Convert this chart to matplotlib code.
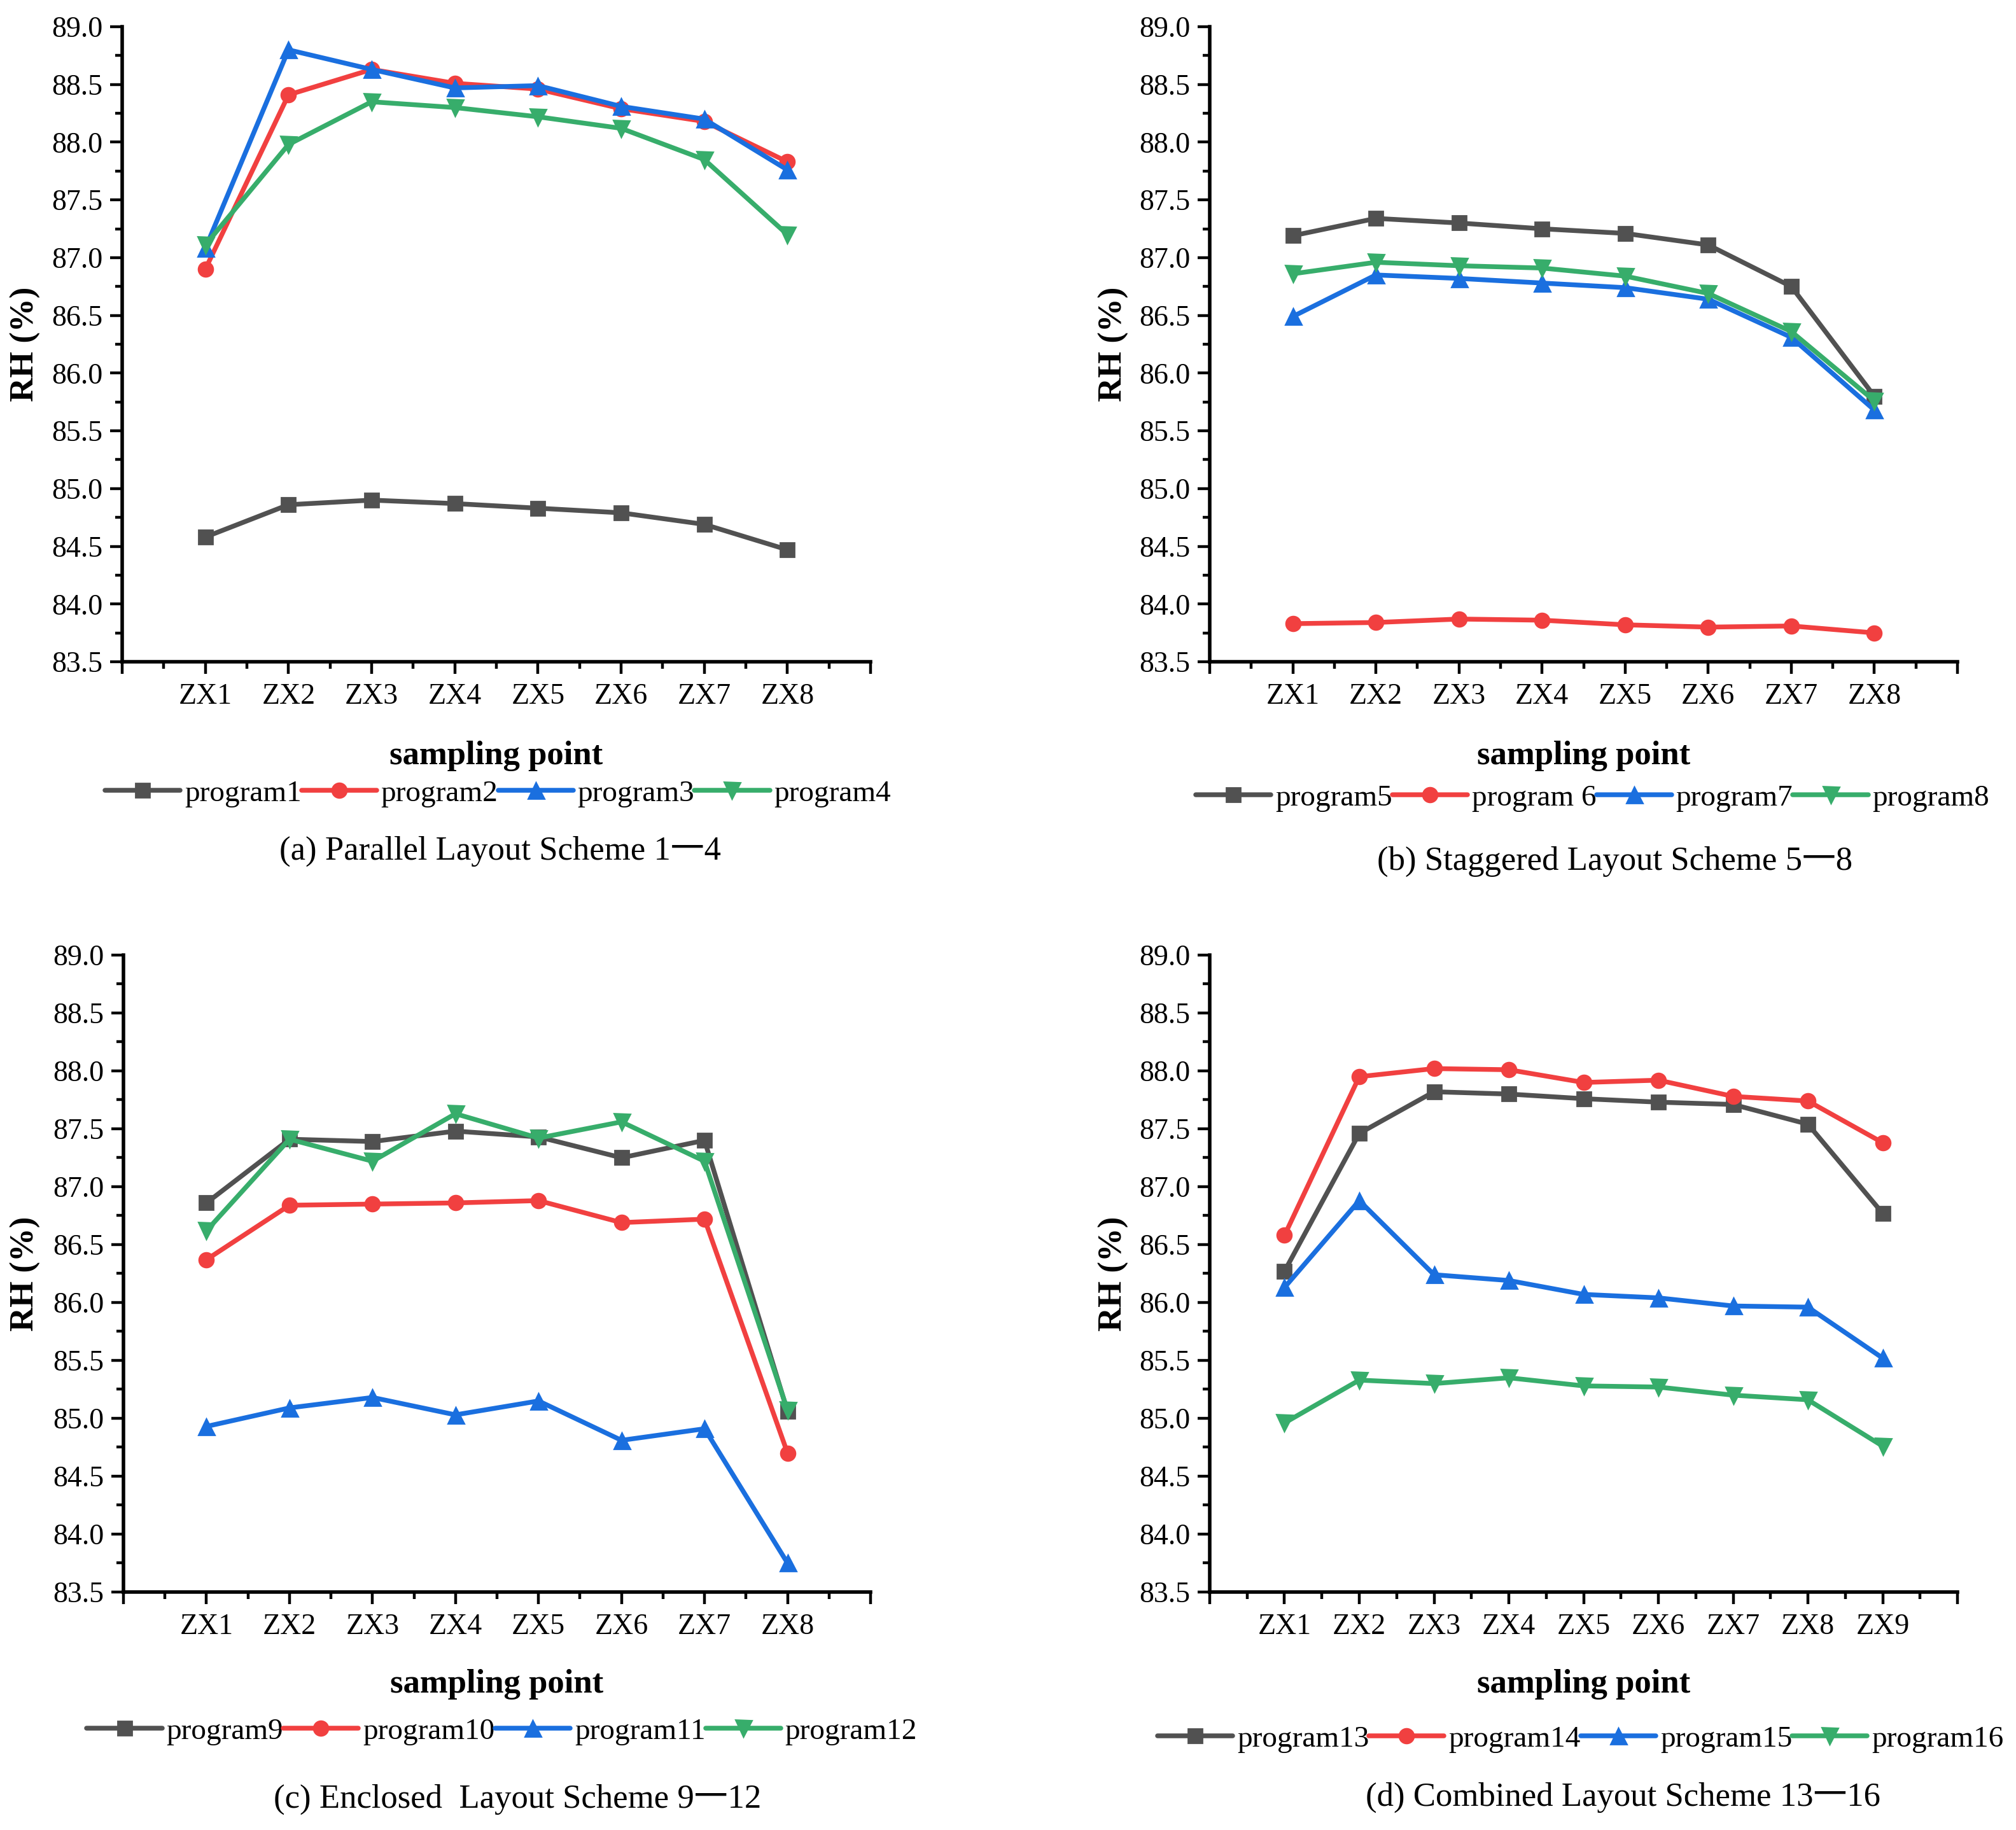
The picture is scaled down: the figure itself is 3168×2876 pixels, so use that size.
import matplotlib
matplotlib.use("Agg")
import matplotlib.pyplot as plt
from matplotlib.ticker import MultipleLocator, FixedLocator

plt.rcParams['font.family'] = ['Liberation Serif', 'Noto Sans CJK SC', 'DejaVu Serif']

# ---------------- data ----------------
labels_8 = ['ZX1', 'ZX2', 'ZX3', 'ZX4', 'ZX5', 'ZX6', 'ZX7', 'ZX8']
labels_9 = ['ZX1', 'ZX2', 'ZX3', 'ZX4', 'ZX5', 'ZX6', 'ZX7', 'ZX8', 'ZX9']

# (a) Parallel layout
program1 = [84.58, 84.86, 84.90, 84.87, 84.83, 84.79, 84.69, 84.47]
program2 = [86.90, 88.41, 88.63, 88.51, 88.46, 88.29, 88.18, 87.83]
program3 = [87.08, 88.80, 88.63, 88.47, 88.49, 88.31, 88.20, 87.76]
program4 = [87.11, 87.98, 88.35, 88.30, 88.22, 88.12, 87.85, 87.20]

# (b) Staggered layout
program5 = [87.19, 87.34, 87.30, 87.25, 87.21, 87.11, 86.75, 85.80]
program6 = [83.83, 83.84, 83.87, 83.86, 83.82, 83.80, 83.81, 83.75]
program7 = [86.49, 86.85, 86.82, 86.78, 86.74, 86.64, 86.31, 85.68]
program8 = [86.86, 86.96, 86.93, 86.91, 86.84, 86.69, 86.36, 85.76]

# (c) Enclosed layout
program9 = [86.86, 87.41, 87.39, 87.48, 87.43, 87.25, 87.40, 85.06]
program10 = [86.37, 86.84, 86.85, 86.86, 86.88, 86.69, 86.72, 84.70]
program11 = [84.93, 85.09, 85.18, 85.03, 85.15, 84.81, 84.91, 83.75]
program12 = [86.62, 87.41, 87.22, 87.63, 87.42, 87.56, 87.22, 85.07]

# (d) Combined layout
program13 = [86.27, 87.46, 87.82, 87.80, 87.76, 87.73, 87.71, 87.54, 86.77]
program14 = [86.58, 87.95, 88.02, 88.01, 87.90, 87.92, 87.78, 87.74, 87.38]
program15 = [86.13, 86.88, 86.24, 86.19, 86.07, 86.04, 85.97, 85.96, 85.52]
program16 = [84.96, 85.33, 85.30, 85.35, 85.28, 85.27, 85.20, 85.16, 84.76]

colors = ['#515151', '#F14040', '#1A6FDF', '#37AD6B']
markers = ['s', 'o', '^', 'v']
msizes = [7.6, 8.2, 9.0, 9.0]

W, H = 3168, 2876
DPI = 200
fig = plt.figure(figsize=(W / DPI, H / DPI), dpi=DPI)


def px(x0, y0, x1, y1):
    return [x0 / W, 1 - y1 / H, (x1 - x0) / W, (y1 - y0) / H]


panels = [
    dict(rect=px(192, 42, 1368, 1040), labels=labels_8,
         series=[program1, program2, program3, program4],
         names=['program1', 'program2', 'program3', 'program4'],
         leg=(0.247, 1 - 1247 / H), samp=1 - 1188 / H, rh=(40 / W),
         cap=(0.248, 1 - 1338 / H, '(a) Parallel Layout Scheme 1\u4e004')),
    dict(rect=px(1901, 42, 3076, 1040), labels=labels_8,
         series=[program5, program6, program7, program8],
         names=['program5', 'program 6', 'program7', 'program8'],
         leg=(0.790, 1 - 1254 / H), samp=1 - 1188 / H, rh=(1750 / W),
         cap=(0.801, 1 - 1354 / H, '(b) Staggered Layout Scheme 5\u4e008')),
    dict(rect=px(194, 1501, 1368, 2502), labels=labels_8,
         series=[program9, program10, program11, program12],
         names=['program9', 'program10', 'program11', 'program12'],
         leg=(0.249, 1 - 2721 / H), samp=1 - 2647 / H, rh=(40 / W),
         cap=(0.2567, 1 - 2828 / H, '(c) Enclosed  Layout Scheme 9\u4e0012')),
    dict(rect=px(1901, 1501, 3076, 2502), labels=labels_9,
         series=[program13, program14, program15, program16],
         names=['program13', 'program14', 'program15', 'program16'],
         leg=(0.784, 1 - 2733 / H), samp=1 - 2647 / H, rh=(1750 / W),
         cap=(0.805, 1 - 2825 / H, '(d) Combined Layout Scheme 13\u4e0016')),
]

for p in panels:
    ax = fig.add_axes(p['rect'])
    n = len(p['labels'])
    xs = list(range(1, n + 1))
    handles = []
    for vals, c, m, ms, name in zip(p['series'], colors, markers, msizes, p['names']):
        h, = ax.plot(xs, vals, color=c, marker=m, markersize=ms, linewidth=2.7,
                     label=name, solid_capstyle='round', solid_joinstyle='round')
        handles.append(h)
    ax.set_xlim(0, n + 1)
    ax.set_ylim(83.5, 89.0)
    ax.xaxis.set_major_locator(FixedLocator(list(range(0, n + 2))))
    ax.set_xticklabels([''] + p['labels'] + [''])
    ax.xaxis.set_minor_locator(MultipleLocator(0.5))
    ax.yaxis.set_major_locator(MultipleLocator(0.5))
    ax.yaxis.set_minor_locator(MultipleLocator(0.25))
    ax.yaxis.set_major_formatter(matplotlib.ticker.FormatStrFormatter('%.1f'))
    for s in ['top', 'right']:
        ax.spines[s].set_visible(False)
    for s in ['left', 'bottom']:
        ax.spines[s].set_linewidth(2.0)
    ax.tick_params(which='major', direction='out', length=7, width=1.6,
                   labelsize=16.5, pad=4)
    ax.tick_params(which='minor', direction='out', length=3.8, width=1.6)
    ax.tick_params(axis='x', which='major', pad=5)

    cx = p['rect'][0] + p['rect'][2] / 2
    cy = p['rect'][1] + p['rect'][3] / 2
    fig.text(cx, p['samp'], 'sampling point', ha='center', va='center',
             fontsize=19, fontweight='bold')
    fig.text(p['rh'], cy, 'RH (%)', ha='center', va='center', rotation=90,
             fontsize=19, fontweight='bold')
    fig.legend(handles=handles, loc='center', bbox_to_anchor=p['leg'],
               ncol=4, frameon=False, fontsize=17, handlelength=2.5,
               handletextpad=0.15, columnspacing=0.0, borderpad=0,
               borderaxespad=0)
    fig.text(p['cap'][0], p['cap'][1], p['cap'][2], ha='center', va='center',
             fontsize=19)

fig.savefig('out.png', dpi=DPI)
